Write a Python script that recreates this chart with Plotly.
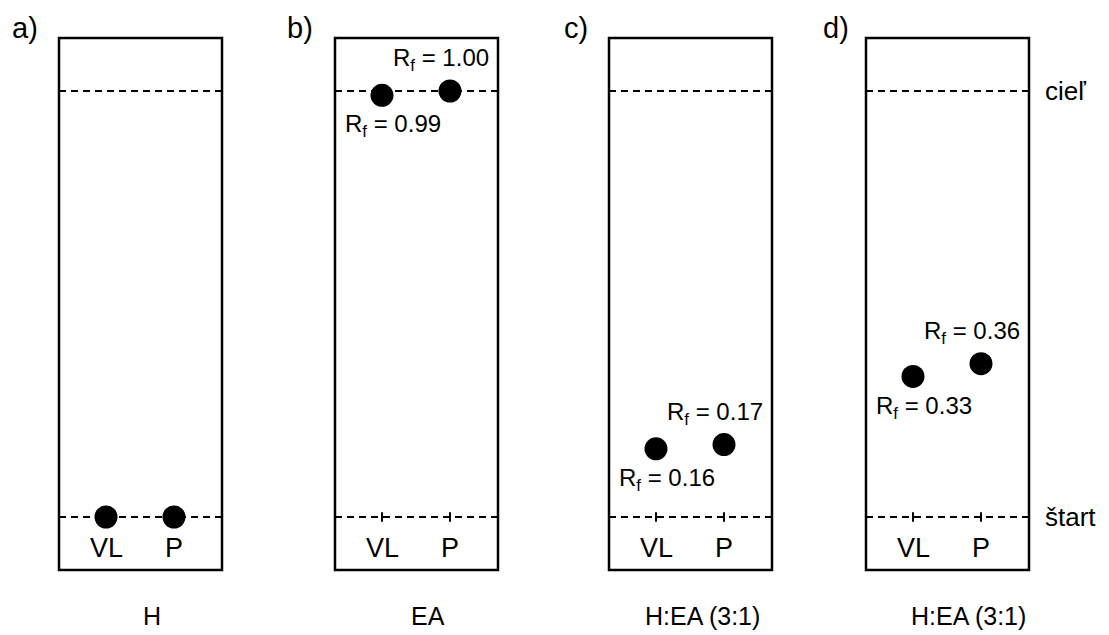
import plotly.graph_objects as go

# ---- data ----
panels = ["a)", "b)", "c)", "d)"]
solvents = ["H", "EA", "H:EA (3:1)", "H:EA (3:1)"]
lanes = ["VL", "P"]
rf_vl = [0.00, 0.99, 0.16, 0.33]
rf_p = [0.00, 1.00, 0.17, 0.36]
show_rf = [False, True, True, True]
front_label = "cieľ"
start_label = "štart"

# ---- layout constants (window pixels / Rf units) ----
W, H = 1109, 635
PAGE_OFF = 8           # page body margin
plate_left = [59, 335, 609, 866]
plate_w = 163
lane_off = [47, 115]
solvent_x = [152, 428, 702, 968]
panel_x = [25, 300, 576, 836]
ext = 0.1244           # plate extends beyond start/front (Rf units)
px_per_rf = 426.0
start_px = 517
y_hi = (start_px - PAGE_OFF) / px_per_rf
y_lo = (start_px - (H + PAGE_OFF)) / px_per_rf
FONT = "Liberation Sans, Arial, sans-serif"


def rf_at(py):
    return (start_px - py) / px_per_rf


fig = go.Figure()
shapes = []
annotations = []

for i in range(4):
    L = plate_left[i]
    R = L + plate_w
    shapes.append(dict(type="rect", xref="x", yref="y", x0=L, x1=R, y0=-ext, y1=1 + ext,
                       line=dict(color="black", width=2.5), fillcolor="rgba(0,0,0,0)", layer="below"))
    for yv in (0.0, 1.0):
        shapes.append(dict(type="line", xref="x", yref="y", x0=L, x1=R, y0=yv, y1=yv,
                           line=dict(color="black", width=2, dash="7px,5px"), layer="below"))
    vals = [rf_vl[i], rf_p[i]]
    xs = [L + o for o in lane_off]
    if show_rf[i]:
        for x in xs:
            shapes.append(dict(type="line", xref="x", yref="y", x0=x, x1=x, y0=-0.011, y1=0.011,
                               line=dict(color="black", width=2), layer="below"))
    fig.add_trace(go.Scatter(x=xs, y=vals, mode="markers",
                             marker=dict(size=23, color="black", line=dict(width=0)),
                             showlegend=False, hoverinfo="skip"))
    for x, name in zip(xs, lanes):
        annotations.append(dict(x=x, y=rf_at(548), xref="x", yref="y", text=name, showarrow=False,
                                xanchor="center", yanchor="middle",
                                font=dict(family=FONT, size=27, color="black")))
    if show_rf[i]:
        annotations.append(dict(x=xs[1] + 41, y=vals[1] + 0.073, xref="x", yref="y",
                                text="R<sub>f</sub> = %.2f" % vals[1], showarrow=False,
                                xanchor="right", yanchor="middle",
                                font=dict(family=FONT, size=24, color="black")))
        annotations.append(dict(x=xs[0] - 39, y=vals[0] - 0.072, xref="x", yref="y",
                                text="R<sub>f</sub> = %.2f" % vals[0], showarrow=False,
                                xanchor="left", yanchor="middle",
                                font=dict(family=FONT, size=24, color="black")))
    annotations.append(dict(x=panel_x[i], y=rf_at(28), xref="x", yref="y", text=panels[i],
                            showarrow=False, xanchor="center", yanchor="middle",
                            font=dict(family=FONT, size=29, color="black")))
    annotations.append(dict(x=solvent_x[i], y=rf_at(616), xref="x", yref="y",
                            text=solvents[i], showarrow=False, xanchor="center", yanchor="middle",
                            font=dict(family=FONT, size=25, color="black")))

annotations.append(dict(x=1043, y=1.0, xref="x", yref="y", text=front_label, showarrow=False,
                        xanchor="left", yanchor="middle", font=dict(family=FONT, size=26, color="black")))
annotations.append(dict(x=1043, y=0.0, xref="x", yref="y", text=start_label, showarrow=False,
                        xanchor="left", yanchor="middle", font=dict(family=FONT, size=26, color="black")))

fig.update_layout(
    width=W, height=H,
    margin=dict(l=0, r=0, t=0, b=0),
    paper_bgcolor="white", plot_bgcolor="white",
    xaxis=dict(range=[PAGE_OFF, W + PAGE_OFF], visible=False, fixedrange=True),
    yaxis=dict(range=[y_lo, y_hi], visible=False, fixedrange=True),
    shapes=shapes, annotations=annotations,
)

fig.write_html("out.html")
